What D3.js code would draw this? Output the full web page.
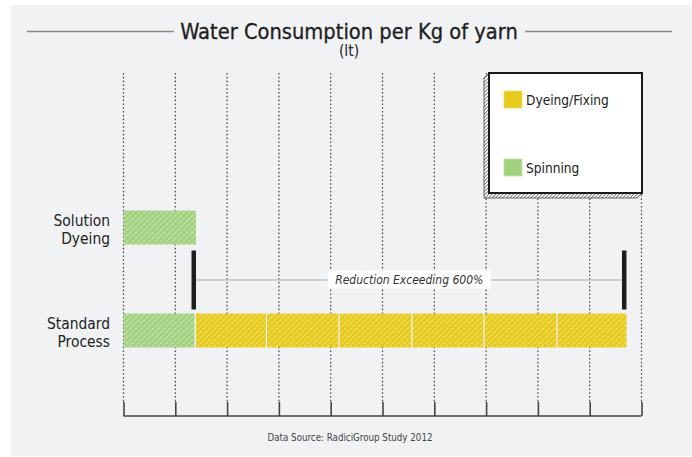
<!DOCTYPE html>
<html>
<head>
<meta charset="utf-8">
<script src="https://cdn.jsdelivr.net/npm/d3@7"></script>
<style>
  body { margin: 0; background: #fff; }
  svg { display: block; }
  text { font-family: "DejaVu Sans Condensed", "Liberation Sans Narrow", sans-serif; }
</style>
</head>
<body>
<svg></svg>
<script>
var svg_width = 692;
var svg_height = 457;

// data (litres per kg, estimated)
var categories = ["Solution Dyeing", "Standard Process"];
var category_lines = [["Solution", "Dyeing"], ["Standard", "Process"]];
var spinning = [14, 14];
var dyeing_blocks = [[], [13.7, 14.0, 14.1, 13.9, 14.1, 13.3]];
var x_ticks = [0, 10, 20, 30, 40, 50, 60, 70, 80, 90, 100];
var legend_labels = ["Dyeing/Fixing", "Spinning"];
var title_text = "Water Consumption per Kg of yarn";
var subtitle_text = "(lt)";
var note_text = "Reduction Exceeding 600%";
var source_text = "Data Source: RadiciGroup Study 2012";

var green = "#a2d17f";
var yellow = "#e6ca1c";

var svg = d3.select('svg')
  .attr('width', svg_width)
  .attr('height', svg_height);

// patterns
var defs = svg.append('defs');
function hatch(id, base, line, op, gap, dash) {
  var p = defs.append('pattern')
    .attr('id', id)
    .attr('patternUnits', 'userSpaceOnUse')
    .attr('width', gap).attr('height', gap)
    .attr('patternTransform', 'rotate(45)');
  p.append('rect').attr('width', gap).attr('height', gap).attr('fill', base);
  p.append('line')
    .attr('x1', 0).attr('y1', 0).attr('x2', 0).attr('y2', gap)
    .attr('stroke', line).attr('stroke-width', 1.2)
    .attr('stroke-opacity', op)
    .attr('stroke-dasharray', dash);
}
hatch('hatch-green', green, '#ffffff', 0.75, 4, '2,1');
hatch('hatch-yellow', yellow, '#ffffff', 0.75, 4, '2,1');
hatch('hatch-shadow', '#ffffff', '#333333', 1, 2.5, null);

// panel
svg.append('rect')
  .attr('x', 11).attr('y', 5)
  .attr('width', 681).attr('height', 451)
  .attr('fill', '#f1f2f4');

// scales
var xScale = d3.scaleLinear().domain([0, 100]).range([123.5, 641.5]);
var yScale = d3.scalePoint().domain(categories).range([227.5, 330.5]);
var bar_h = 34;

var grid_top = 73, grid_bottom = 402, axis_y = 416;

// dotted gridlines
svg.append('g').selectAll('line')
  .data(x_ticks).enter().append('line')
  .attr('x1', function(d) {return xScale(d);})
  .attr('x2', function(d) {return xScale(d);})
  .attr('y1', grid_top).attr('y2', grid_bottom)
  .attr('stroke', '#444').attr('stroke-width', 1.2)
  .attr('stroke-dasharray', '1.6,2.2');

// bottom axis with upward ticks
var axis = d3.axisBottom(xScale).tickValues(x_ticks).tickSize(-(axis_y - grid_bottom)).tickFormat('');
var axis_g = svg.append('g')
  .attr('transform', 'translate(0,' + axis_y + ')')
  .call(axis);
axis_g.select('.domain').attr('stroke', '#444').attr('stroke-width', 1.6).attr('d', 'M' + xScale(0) + ',0H' + xScale(100));
axis_g.selectAll('.tick line').attr('stroke', '#444').attr('stroke-width', 1.6);

// title
svg.append('text')
  .attr('x', 349).attr('y', 38.5)
  .attr('text-anchor', 'middle')
  .attr('font-size', 21.7)
  .attr('fill', '#1e1e1e')
  .attr('stroke', '#1e1e1e').attr('stroke-width', 0.3)
  .text(title_text);
svg.append('line').attr('x1', 27).attr('x2', 174).attr('y1', 31.5).attr('y2', 31.5)
  .attr('stroke', '#888').attr('stroke-width', 1.3);
svg.append('line').attr('x1', 525).attr('x2', 672).attr('y1', 31.5).attr('y2', 31.5)
  .attr('stroke', '#888').attr('stroke-width', 1.3);
svg.append('text')
  .attr('x', 349).attr('y', 56)
  .attr('text-anchor', 'middle')
  .attr('font-size', 15.5)
  .attr('fill', '#222')
  .text(subtitle_text);

// legend box with hatched shadow
var lx = 489, ly = 73, lw = 153, lh = 120, sd = 5;
svg.append('path')
  .attr('d', 'M' + lx + ',' + ly + 'L' + (lx - sd) + ',' + (ly + sd) + 'L' + (lx - sd) + ',' + (ly + lh + sd) +
        'L' + (lx + lw - sd) + ',' + (ly + lh + sd) + 'L' + (lx + lw) + ',' + (ly + lh) + 'Z')
  .attr('fill', 'url(#hatch-shadow)')
  .attr('stroke', '#444').attr('stroke-width', 0.8);
svg.append('rect')
  .attr('x', lx).attr('y', ly).attr('width', lw).attr('height', lh)
  .attr('fill', '#fff').attr('stroke', '#1a1a1a').attr('stroke-width', 2);

var legend = svg.append('g').selectAll('g')
  .data(legend_labels).enter().append('g')
  .attr('transform', function(d, i) {return 'translate(504,' + (91 + i * 68) + ')';});
legend.append('rect')
  .attr('width', 18).attr('height', 17)
  .attr('fill', function(d, i) {return i == 0 ? yellow : green;})
  .attr('stroke', function(d, i) {return i == 0 ? '#f0dc70' : '#c3e3aa';})
  .attr('stroke-width', 0.8);
legend.append('text')
  .attr('x', 22).attr('y', 13.5)
  .attr('font-size', 13.6)
  .attr('fill', '#222')
  .text(function(d) {return d;});

// bars
var bars = svg.append('g').selectAll('g')
  .data(categories).enter().append('g');

bars.append('rect')
  .attr('x', xScale(0))
  .attr('y', function(d) {return yScale(d) - bar_h / 2;})
  .attr('width', function(d, i) {return xScale(spinning[i]) - xScale(0) - (dyeing_blocks[i].length ? 1.5 : 0);})
  .attr('height', bar_h)
  .attr('fill', 'url(#hatch-green)');

bars.each(function(d, i) {
  var start = spinning[i];
  var blocks = dyeing_blocks[i].map(function(v) {
    var b = {start: start, end: start + v};
    start += v;
    return b;
  });
  d3.select(this).selectAll('rect.dye')
    .data(blocks).enter().append('rect')
    .attr('class', 'dye')
    .attr('x', function(b) {return xScale(b.start);})
    .attr('y', yScale(d) - bar_h / 2)
    .attr('width', function(b, j) {return xScale(b.end) - xScale(b.start) - (j < blocks.length - 1 ? 1.2 : 0);})
    .attr('height', bar_h)
    .attr('fill', 'url(#hatch-yellow)');
});

// category labels, one text per line
svg.append('g').selectAll('g')
  .data(categories).enter().append('g')
  .each(function(d, i) {
    var g = d3.select(this);
    category_lines[i].forEach(function(s, k) {
      g.append('text')
        .attr('x', 110)
        .attr('y', yScale(d) - 1.5 + k * 18)
        .attr('text-anchor', 'end')
        .attr('font-size', 15.4)
        .attr('fill', '#222')
        .text(s);
    });
  });

// reduction marker
var total_standard = spinning[1] + d3.sum(dyeing_blocks[1]);
var marker_vals = [spinning[0], total_standard];
var m_top = yScale(categories[0]) + bar_h / 2 + 6;
var m_bot = yScale(categories[1]) - bar_h / 2 - 4;
var m_mid = (m_top + m_bot) / 2;
svg.append('line')
  .attr('x1', xScale(marker_vals[0])).attr('x2', xScale(marker_vals[1]) - 4)
  .attr('y1', m_mid).attr('y2', m_mid)
  .attr('stroke', '#aaa').attr('stroke-width', 1.2);
svg.append('g').selectAll('rect')
  .data(marker_vals).enter().append('rect')
  .attr('x', function(d) {return xScale(d) - 4.5;})
  .attr('y', m_top)
  .attr('width', 4.5)
  .attr('height', m_bot - m_top)
  .attr('fill', '#1e1e1e');

var mid_x = (xScale(marker_vals[0]) + xScale(marker_vals[1]) - 4) / 2;
var note = svg.append('g');
note.append('rect')
  .attr('x', mid_x - 81.5).attr('y', m_mid - 9.5)
  .attr('width', 163).attr('height', 18)
  .attr('fill', '#fff');
note.append('text')
  .attr('x', mid_x).attr('y', m_mid + 4.3)
  .attr('text-anchor', 'middle')
  .attr('font-size', 12)
  .attr('font-style', 'italic')
  .attr('fill', '#333')
  .text(note_text);

// source
svg.append('text')
  .attr('x', 350).attr('y', 441)
  .attr('text-anchor', 'middle')
  .attr('font-size', 9.7)
  .attr('fill', '#444')
  .text(source_text);
</script>
</body>
</html>
